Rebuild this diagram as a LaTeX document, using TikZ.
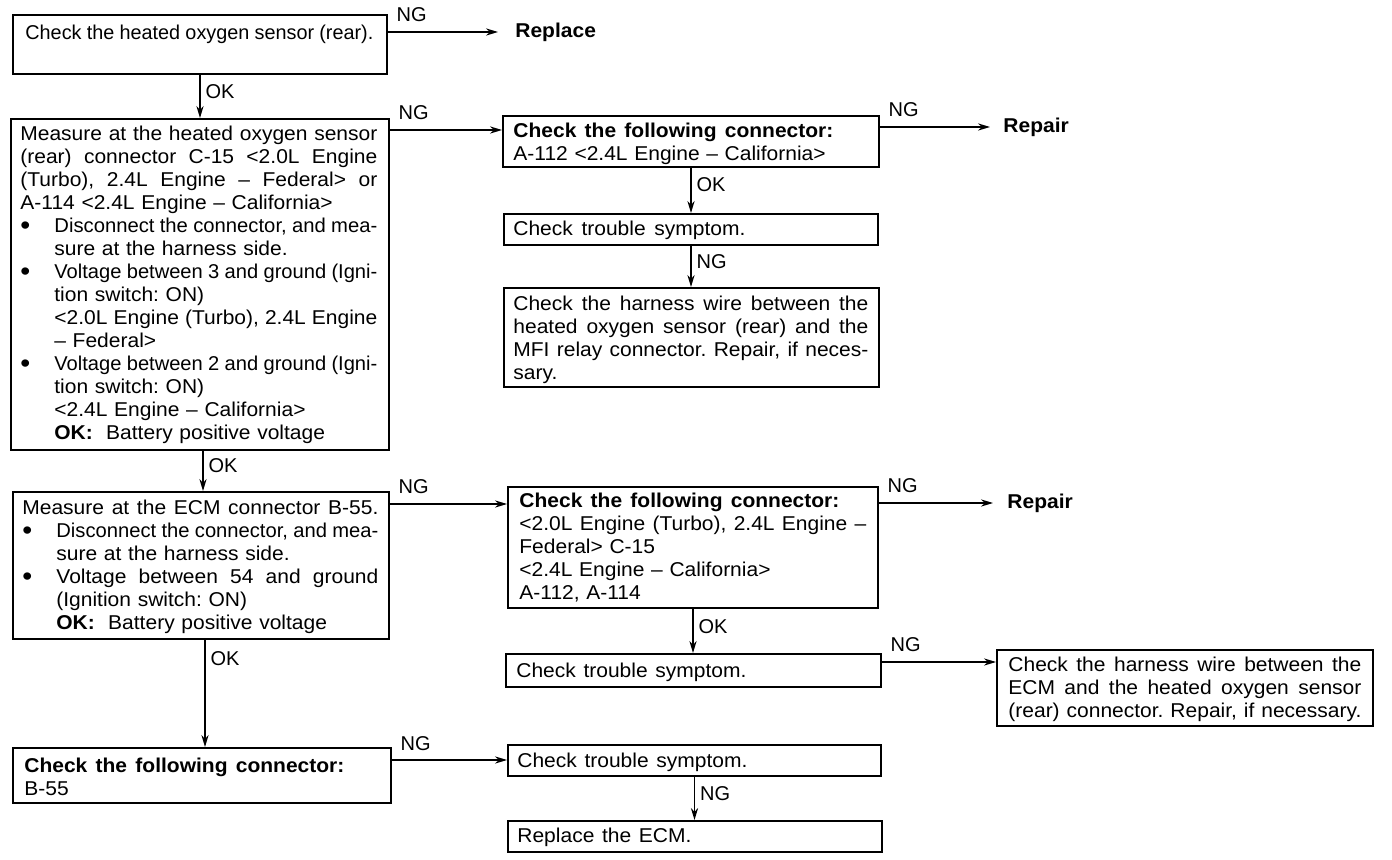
\documentclass[tikz,border=0pt]{standalone}
\usepackage{fontspec}
\usepackage{graphicx}
\setmainfont{Liberation Sans}
\newfontfamily\wide[FakeStretch=1.05]{Liberation Sans}
\usetikzlibrary{arrows.meta}
\newlength\natw
\newlength\tgtw
\newcommand\SP{\spaceskip=0.278em plus 1fil minus 0.06em\relax}
\newcommand\FB[2]{\setlength\tgtw{#1}\settowidth\natw{\SP #2}%
  \ifdim\natw>\tgtw\resizebox{\tgtw}{\height}{\SP #2}%
  \else\makebox[\tgtw][s]{\SP #2}\fi}
\newcommand\BL{\makebox[17pt][l]{\raisebox{-0.9pt}{\fontsize{13.5pt}{0pt}\selectfont\textbullet}}}
\newcommand\J[1]{\FB{\hsize}{#1}}
\newcommand\Bu[1]{\BL\FB{\dimexpr\hsize-17pt\relax}{#1}}
\newcommand\In[1]{\hspace*{17pt}\FB{\dimexpr\hsize-17pt\relax}{#1}}
\newcommand\InL[1]{\hspace*{17pt}#1}
\newcommand\CTS[1]{\FB{#1}{Check trouble symptom.}}
\newcommand\CFC{{\bfseries\FB{160pt}{Check the following connector:}}}
\begin{document}
\begin{tikzpicture}[x=0.5pt,y=-0.5pt,
  box/.style={draw, line width=1pt, anchor=north west, inner sep=0pt},
  txt/.style={anchor=north west, inner sep=0pt, align=left,
    font=\wide\fontsize{10pt}{11.5pt}\selectfont\frenchspacing, execute at begin node=\strut},
  lbl/.style={anchor=west, inner sep=0pt, font=\wide\fontsize{10pt}{11.5pt}\selectfont\bfseries},
  ngl/.style={anchor=base west, inner sep=0pt, xshift=4pt, yshift=5pt,
    font=\fontsize{10pt}{11.5pt}\selectfont},
  okl/.style={anchor=west, inner sep=0pt, xshift=2.5pt,
    font=\fontsize{10pt}{11.5pt}\selectfont},
  arr/.style={line width=0.6pt, -{Stealth[length=6pt, width=3.6pt]}}]
\useasboundingbox (0,0) rectangle (1392,860);

% boxes
\node[box, minimum width=187pt,   minimum height=29.5pt]  (b1)  at (12,14)   {};
\node[box, minimum width=189pt,   minimum height=165.5pt] (b2)  at (10,118)  {};
\node[box, minimum width=188pt,   minimum height=25.5pt]  (b3)  at (502,115) {};
\node[box, minimum width=187pt,   minimum height=15.5pt]  (b4)  at (503,213) {};
\node[box, minimum width=187.5pt, minimum height=49.5pt]  (b5)  at (503,287) {};
\node[box, minimum width=188pt,   minimum height=73.5pt]  (b6)  at (12,491)  {};
\node[box, minimum width=185pt,   minimum height=60.5pt]  (b7)  at (507,486) {};
\node[box, minimum width=187.5pt, minimum height=16.5pt]  (b8)  at (505,653) {};
\node[box, minimum width=188pt,   minimum height=38pt]    (b9)  at (996,649) {};
\node[box, minimum width=189pt,   minimum height=27.5pt]  (b10) at (12,747)  {};
\node[box, minimum width=186.5pt, minimum height=15.5pt]  (b11) at (507,744) {};
\node[box, minimum width=187pt,   minimum height=15.5pt]  (b12) at (507,820) {};

% texts
\node[txt, text width=176pt] (t1) at (25,23)
  {\FB{174pt}{Check the heated oxygen sensor (rear).}};
\node[txt, text width=178.5pt] (t2) at (20,124) {%
  \J{Measure at the heated oxygen sensor}\\
  \J{(rear) connector C-15 <2.0L Engine}\\
  \J{(Turbo), 2.4L Engine – Federal> or}\\
  A-114 <2.4L Engine – California>\\
  \Bu{Disconnect the connector, and mea-}\\
  \InL{sure at the harness side.}\\
  \Bu{Voltage between 3 and ground (Igni-}\\
  \InL{tion switch: ON)}\\
  \In{<2.0L Engine (Turbo), 2.4L Engine}\\
  \InL{– Federal>}\\
  \Bu{Voltage between 2 and ground (Igni-}\\
  \InL{tion switch: ON)}\\
  \InL{<2.4L Engine – California>}\\
  \InL{\textbf{OK:}\ \ Battery positive voltage}};
\node[txt, text width=178pt] (t3) at (513,121) {%
  \CFC\\
  A-112 <2.4L Engine – California>};
\node[txt, text width=178pt] (t4) at (513,219) {\CTS{116pt}};
\node[txt, text width=177.5pt] (t5) at (513,294) {%
  \J{Check the harness wire between the}\\
  \J{heated oxygen sensor (rear) and the}\\
  \J{MFI relay connector. Repair, if neces-}\\
  sary.};
\node[txt, text width=178pt] (t6) at (22,498) {%
  \J{Measure at the ECM connector B-55.}\\
  \Bu{Disconnect the connector, and mea-}\\
  \InL{sure at the harness side.}\\
  \Bu{Voltage between 54 and ground}\\
  \InL{(Ignition switch: ON)}\\
  \InL{\textbf{OK:}\ \ Battery positive voltage}};
\node[txt, text width=173.5pt] (t7) at (519,491) {%
  \CFC\\
  \J{<2.0L Engine (Turbo), 2.4L Engine –}\\
  Federal> C-15\\
  <2.4L Engine – California>\\
  A-112, A-114};
\node[txt, text width=178pt] (t8) at (516,661) {\CTS{115pt}};
\node[txt, text width=176.5pt] (t9) at (1008,655) {%
  \J{Check the harness wire between the}\\
  \J{ECM and the heated oxygen sensor}\\
  \J{(rear) connector. Repair, if necessary.}};
\node[txt, text width=180pt] (t10) at (24,756) {%
  \CFC\\
  B-55};
\node[txt, text width=178pt] (t11) at (517,751) {\CTS{115pt}};
\node[txt, text width=178pt] (t12) at (517,826)
  {\FB{87pt}{Replace the ECM.}};

% end labels
\node[lbl] (rep)  at (515,32)   {Replace};
\node[lbl] (rp1)  at (1003,127) {Repair};
\node[lbl] (rp2)  at (1007,503) {Repair};

% NG connectors
\draw[arr] (b1.east |- rep.west) -- node[ngl, at start] {NG} ([xshift=-8.5pt]rep.west);
\draw[arr] ([yshift=-6pt]b2.north east) -- node[ngl, at start] {NG}
  ([yshift=-6pt]b2.north east -| b3.west);
\draw[arr] (b3.east |- rp1.west) -- node[ngl, at start] {NG} ([xshift=-6.5pt]rp1.west);
\draw[arr] ([yshift=-6.5pt]b6.north east) -- node[ngl, at start] {NG}
  ([yshift=-6.5pt]b6.north east -| b7.west);
\draw[arr] (b7.east |- rp2.west) -- node[ngl, at start] {NG} ([xshift=-7pt]rp2.west);
\draw[arr] ([yshift=-4.5pt]b8.north east) -- node[ngl, at start] {NG}
  ([yshift=-4.5pt]b8.north east -| b9.west);
\draw[arr] ([yshift=-6.5pt]b10.north east) -- node[ngl, at start] {NG}
  ([yshift=-6.5pt]b10.north east -| b11.west);
\draw[arr] (b4.south) -- node[okl, pos=.37] {NG} (b4.south |- b5.north);
\draw[arr] (b11.south) -- node[okl, pos=.38] {NG} (b11.south |- b12.north);

% OK connectors
\draw[arr] (b1.south) -- node[okl, pos=.38] {OK} (b1.south |- b2.north);
\draw[arr] (b3.south) -- node[okl, pos=.38] {OK} (b3.south |- b4.north);
\draw[arr] ([xshift=1.5pt]b2.south) -- node[okl, pos=.36] {OK} ([xshift=1.5pt]b2.south |- b6.north);
\draw[arr] (b7.south) -- node[okl, pos=.41] {OK} (b7.south |- b8.north);
\draw[arr] ([xshift=2pt]b6.south) -- node[okl, pos=.17] {OK} ([xshift=2pt]b6.south |- b10.north);
\end{tikzpicture}
\end{document}
